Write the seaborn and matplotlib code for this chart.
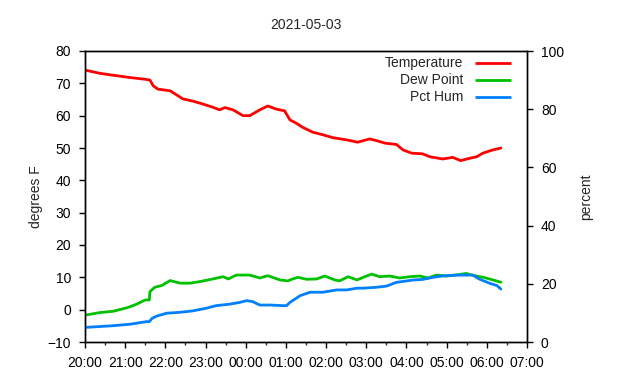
import numpy as np
import pandas as pd
import matplotlib
matplotlib.use("Agg")
import matplotlib.pyplot as plt
import matplotlib.dates as mdates
import seaborn as sns

# ── Data (minutes after 20:00 on 2021-05-02) ─────────────────────────────────
temp_min = [0, 22, 42, 67, 92, 97, 102, 109, 127, 137, 146, 161, 176, 191,
            201, 209, 221, 236, 246, 261, 273, 286, 298, 306, 316, 325, 340,
            355, 370, 391, 407, 425, 435, 448, 465, 475, 488, 504, 515, 534,
            549, 561, 574, 585, 594, 609, 621]
temp_val = [74.1, 73.1, 72.5, 71.8, 71.2, 71.0, 69.2, 68.2, 67.7, 66.4, 65.2,
            64.5, 63.6, 62.6, 61.8, 62.5, 61.8, 60.0, 60.0, 61.8, 63.0, 62.0,
            61.5, 58.7, 57.6, 56.4, 54.9, 54.1, 53.2, 52.5, 51.8, 52.8, 52.3,
            51.5, 51.1, 49.4, 48.4, 48.2, 47.3, 46.6, 47.1, 46.1, 46.8, 47.3,
            48.4, 49.4, 50.0]

dew_min = [3, 22, 42, 63, 77, 90, 96, 97, 104, 115, 127, 142, 157, 172, 191,
           206, 214, 226, 246, 261, 273, 291, 303, 310, 318, 331, 346, 358,
           373, 380, 393, 406, 418, 428, 440, 455, 470, 485, 500, 512, 525,
           540, 557, 569, 584, 595, 621]
dew_val = [-1.6, -0.9, -0.5, 0.6, 1.7, 3.0, 3.0, 5.6, 6.9, 7.5, 9.0, 8.2, 8.2,
           8.7, 9.5, 10.2, 9.5, 10.7, 10.7, 9.8, 10.5, 9.2, 8.9, 9.5, 10.0,
           9.4, 9.5, 10.4, 9.2, 8.9, 10.2, 9.2, 10.2, 11.0, 10.2, 10.4, 9.8,
           10.2, 10.4, 9.8, 10.7, 10.4, 10.8, 11.2, 10.4, 10.0, 8.5]

hum_min = [3, 42, 67, 92, 96, 100, 107, 122, 142, 161, 181, 196, 216, 231,
           241, 250, 261, 276, 295, 301, 306, 321, 336, 355, 376, 391, 406,
           415, 435, 450, 465, 490, 504, 519, 534, 555, 570, 579, 589, 604,
           615, 621]
hum_val = [5.05, 5.6, 6.1, 7.0, 7.0, 8.1, 8.9, 9.9, 10.2, 10.7, 11.6, 12.5,
           13.0, 13.6, 14.2, 13.9, 12.7, 12.7, 12.5, 12.5, 13.6, 15.9, 17.1,
           17.1, 17.9, 17.9, 18.5, 18.5, 18.8, 19.2, 20.5, 21.3, 21.5, 22.2,
           22.7, 23.0, 23.0, 23.0, 21.6, 20.2, 19.4, 18.2]

labels = ["Temperature", "Dew Point", "Pct Hum"]
colors = ["#ff0000", "#00c000", "#0080ff"]

t0 = pd.Timestamp("2021-05-02 20:00")
temp_df = pd.DataFrame({"time": t0 + pd.to_timedelta(temp_min, unit="min"),
                        "value": temp_val})
dew_df = pd.DataFrame({"time": t0 + pd.to_timedelta(dew_min, unit="min"),
                       "value": dew_val})
hum_df = pd.DataFrame({"time": t0 + pd.to_timedelta(hum_min, unit="min"),
                       "value": hum_val})

# ── Style ────────────────────────────────────────────────────────────────────
sns.set_style("ticks")
plt.rcParams["font.family"] = ["Liberation Sans", "DejaVu Sans"]
plt.rcParams["font.size"] = 10

fig = plt.figure(figsize=(6.4, 3.8), dpi=100)
ax = fig.add_axes([85 / 640, 1 - 342 / 380, 442 / 640, 291 / 380])
ax2 = ax.twinx()

sns.lineplot(data=temp_df, x="time", y="value", ax=ax, color=colors[0], lw=2)
sns.lineplot(data=dew_df, x="time", y="value", ax=ax, color=colors[1], lw=2)
sns.lineplot(data=hum_df, x="time", y="value", ax=ax2, color=colors[2], lw=2)

ax.set_xlim(t0, t0 + pd.Timedelta(hours=11))
ax.set_ylim(-10, 80)
ax.set_yticks(np.arange(-10, 81, 10))
ax2.set_ylim(0, 100)
ax2.set_yticks(np.arange(0, 101, 20))

ax.xaxis.set_major_locator(mdates.HourLocator())
ax.xaxis.set_minor_locator(mdates.MinuteLocator(byminute=[30]))
ax.xaxis.set_major_formatter(mdates.DateFormatter("%H:%M"))

for a in (ax, ax2):
    a.tick_params(which="major", direction="out", length=4, width=1,
                  colors="black", labelsize=10, pad=6)
    a.tick_params(which="minor", direction="out", length=2, width=1)
    for s in a.spines.values():
        s.set_linewidth(1)
        s.set_color("black")
    a.set_xlabel("")

ax.set_ylabel("degrees F", labelpad=3)
ax2.set_ylabel("percent", labelpad=11)
ax.set_title("2021-05-03", fontsize=10, pad=16)

# gnuplot-style key: right-aligned text, sample line to the right
for i, (lab, col) in enumerate(zip(labels, colors)):
    yk = 0.959 - i * 0.0585
    ax.text(0.855, yk, lab, transform=ax.transAxes, ha="right", va="center",
            fontsize=10)
    ax.plot([0.882, 0.964], [yk, yk], transform=ax.transAxes, color=col,
            lw=2, solid_capstyle="butt")

fig.savefig("out.png", dpi=100)
